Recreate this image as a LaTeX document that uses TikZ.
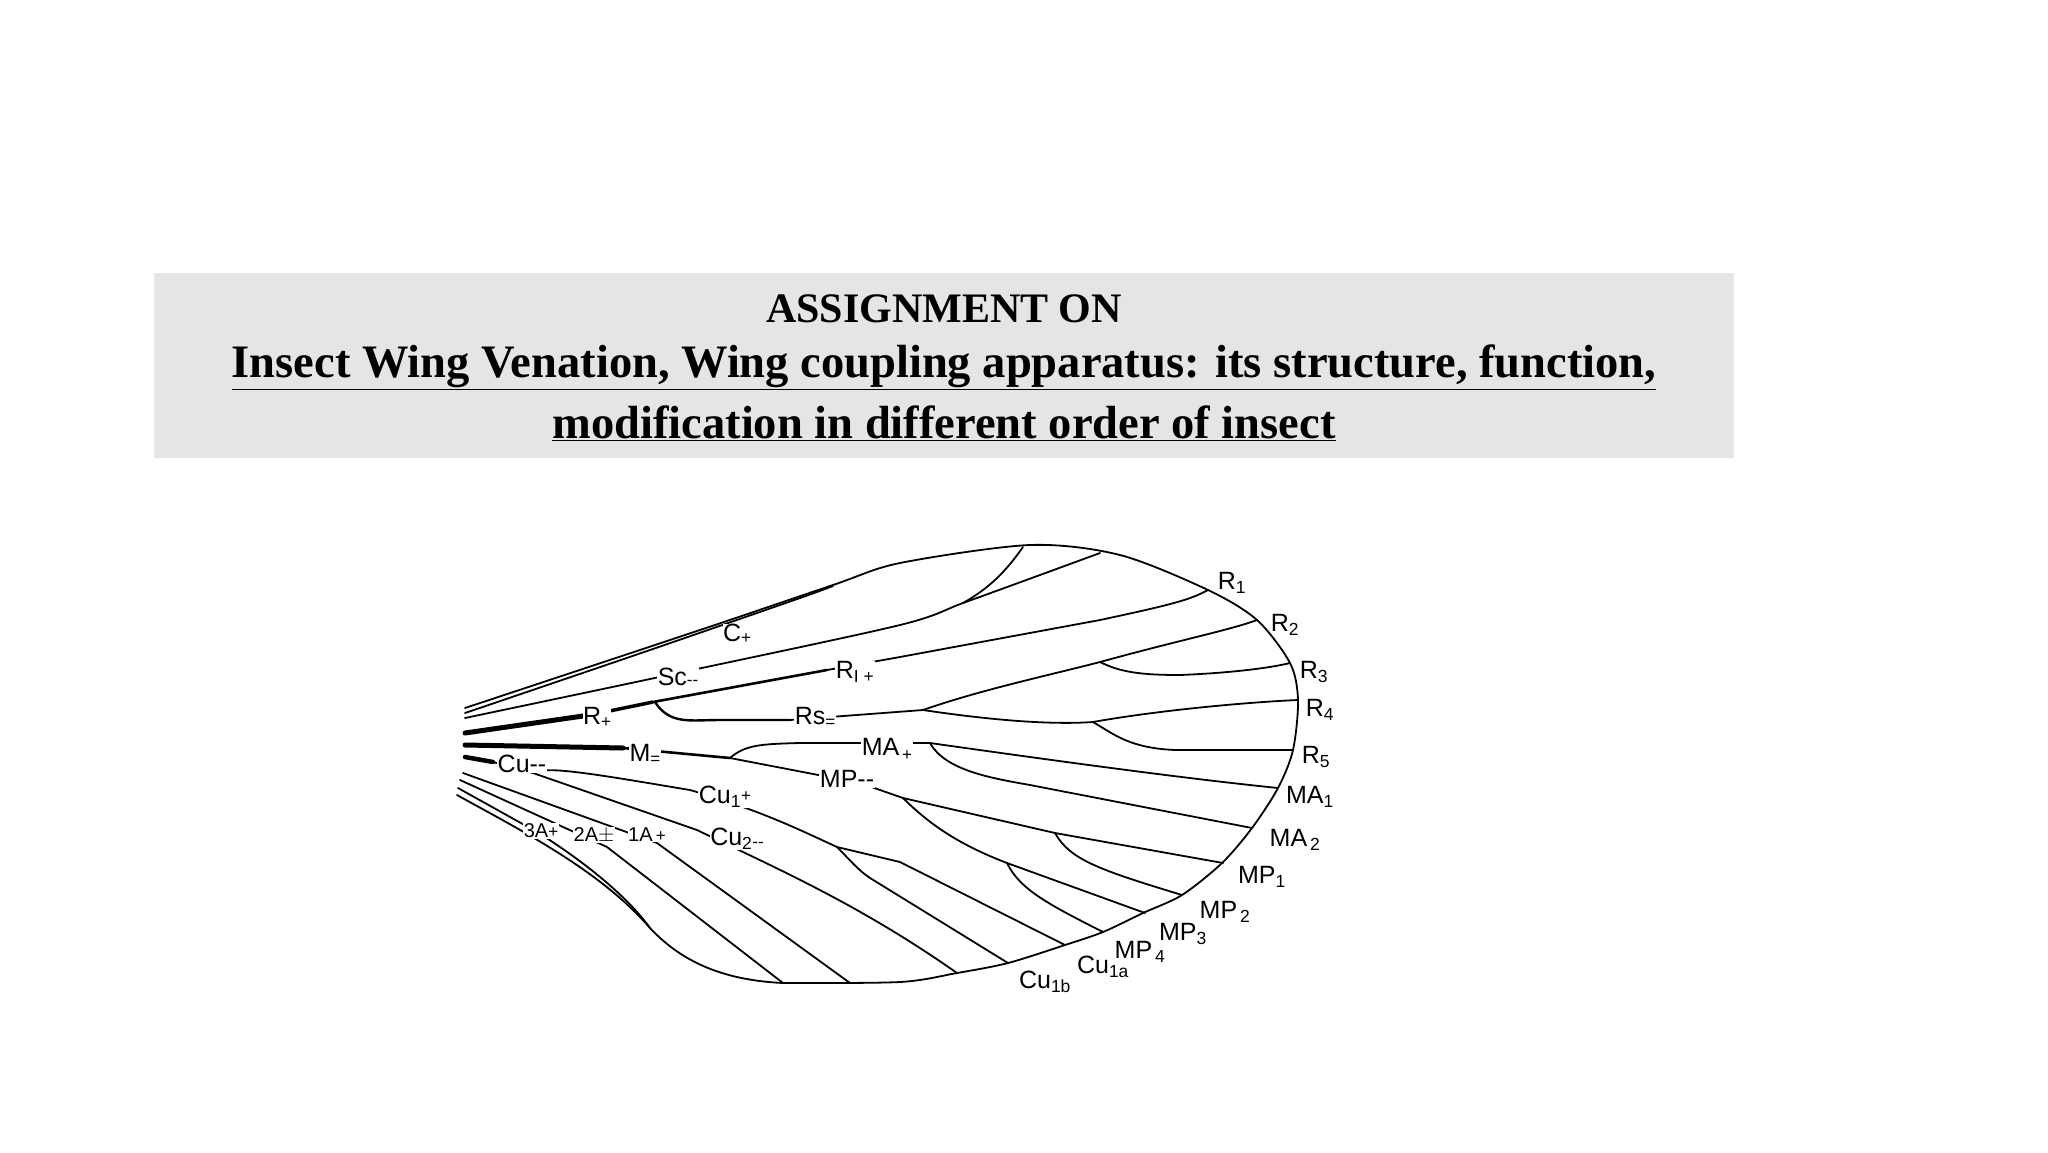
\documentclass[tikz,border=0pt]{standalone}
\usepackage{fontspec}
\setmainfont{Liberation Serif}
\newfontfamily\lab{Liberation Sans}
\newcommand{\sml}[1]{{\fontsize{17}{17}\selectfont #1}}
\begin{document}
\begin{tikzpicture}[x=1pt,y=-1pt,
  vein/.style={line width=1.8pt,line join=round,line cap=round},
  lbl/.style={font=\lab\fontsize{25}{25}\selectfont,fill=white,inner sep=0.5pt},
  mlbl/.style={font=\lab\fontsize{25}{25}\selectfont,inner sep=0.5pt}]
\useasboundingbox (0,0) rectangle (2048,1152);
\fill[fill=white] (0,0) rectangle (2048,1152);
\fill[fill=black!10] (154,273) rectangle (1734,458);
\node[font=\bfseries\fontsize{42}{42}\selectfont] (t1) at (944,309) {ASSIGNMENT ON};
\node[font=\bfseries\fontsize{46.5}{46.5}\selectfont] (t2) at (944,367) {\underline{Insect Wing Venation, Wing coupling apparatus: its structure, function,}};
\node[font=\bfseries\fontsize{46.5}{46.5}\selectfont] (t3) at (944,423) {\underline{modification in different order of insect}};
% wing outline
\draw[vein] plot[smooth,tension=0.5] coordinates {(465,708) (700,630) (833,585) (900,563) (1030,545) (1120,555) (1208,590) (1257,620) (1290,663) (1298,700) (1293,750) (1278,788) (1252,828) (1222,863) (1182,895) (1143,913) (1103,932) (1065,945) (1008,963) (957,973) (900,982) (783,983)};
\draw[vein] (783,983) .. controls (720,980) and (680,960) .. (650,928) .. controls (600,870) and (520,830) .. (457,795);
% C
\draw[vein] plot[smooth,tension=0.5] coordinates {(465,713) (650,650) (800,598) (833,586)};
% Sc
\draw[vein] plot[smooth,tension=0.5] coordinates {(465,718) (683,672) (900,625) (963,603) (1040,575) (1100,553)};
\draw[vein] (963,603) .. controls (995,585) and (1010,565) .. (1023,547);
% R
\draw[line width=5pt,line cap=round] (465,733) -- (590,715);
\draw[line width=3.5pt] (590,715) -- (653,702);
\draw[line width=2.6pt] (653,702) -- (827,670);
\draw[vein] (827,670) -- (900,657) -- (1100,620) .. controls (1170,605) and (1190,600) .. (1208,590);
% Rs
\draw[line width=2.4pt] (655,702) .. controls (670,725) and (690,720) .. (720,720) -- (790,720);
\draw[vein] (790,720) -- (923,710);
\draw[vein] (923,710) .. controls (980,690) and (1050,675) .. (1100,662) .. controls (1180,640) and (1230,630) .. (1257,620);
\draw[vein] (1100,662) .. controls (1120,672) and (1140,675) .. (1180,675) .. controls (1230,673) and (1270,668) .. (1290,663);
\draw[vein] (923,710) .. controls (990,720) and (1050,725) .. (1093,722) .. controls (1160,710) and (1250,702) .. (1298,700);
\draw[vein] (1093,722) .. controls (1115,735) and (1130,748) .. (1175,750) -- (1293,750);
% M
\draw[line width=5pt,line cap=round] (465,745) -- (623,748);
\draw[line width=2.6pt] (623,748) -- (730,758);
\draw[vein] (730,758) .. controls (745,745) and (760,744) .. (800,743) -- (930,743);
\draw[vein] (930,743) .. controls (1050,760) and (1180,778) .. (1278,788);
\draw[vein] (930,743) .. controls (945,770) and (990,778) .. (1030,785) -- (1252,828);
% MP
\draw[vein] (730,758) -- (860,783) -- (903,798);
\draw[vein] (903,798) -- (1055,833) -- (1223,863);
\draw[vein] (1055,833) .. controls (1070,860) and (1100,870) .. (1182,895);
\draw[vein] (903,798) .. controls (930,825) and (960,845) .. (1007,863) -- (1145,913);
\draw[vein] (1007,863) .. controls (1020,890) and (1050,905) .. (1103,932);
% Cu
\draw[line width=4.5pt,line cap=round] (465,757) -- (493,762);
\draw[vein] (493,762) -- (533,773);
\draw[vein] (533,773) .. controls (545,765) and (600,775) .. (690,790) .. controls (760,810) and (800,830) .. (837,847) -- (900,862) -- (1065,945);
\draw[vein] (837,847) .. controls (850,860) and (858,870) .. (870,878) -- (1008,963);
\draw[vein] (533,773) -- (697,830) .. controls (780,870) and (860,905) .. (957,973);
% anal veins
\draw[vein] (463,773) -- (657,843) -- (850,983);
\draw[vein] (460,780) -- (607,847) -- (783,983);
\draw[vein] (458,788) -- (537,832) .. controls (590,865) and (630,900) .. (650,928);
% labels
\node[lbl] (C) at (737,634) {C\raisebox{-2pt}{\sml{+}}};
\node[lbl] (Sc) at (678,677) {Sc\sml{--}};
\node[lbl] (R1p) at (855,672) {R\textsubscript{I +}};
\node[lbl] (Rp) at (597,717) {R\raisebox{-3pt}{\sml{+}}};
\node[lbl] (Rs) at (815,717) {Rs\raisebox{-3pt}{\sml{=}}};
\node[lbl] (M) at (645,754) {M\raisebox{-3pt}{\sml{=}}};
\node[lbl] (MA) at (887,749) {MA\raisebox{-5pt}{\sml{\,+}}};
\node[lbl] (MP) at (847,779) {MP--};
\node[lbl] (Cu) at (522,764) {Cu--};
\node[lbl] (Cu1) at (725,797) {Cu\textsubscript{1}\raisebox{2pt}{\sml{+}}};
\node[lbl] (Cu2) at (737,839) {Cu\textsubscript{2}\raisebox{-2pt}{\sml{--}}};
\node[lbl,font=\lab\fontsize{20}{20}\selectfont] (A3) at (541,831) {3A\sml{+}};
\node[lbl,font=\lab\fontsize{20}{20}\selectfont] (A2) at (594,835) {2A$\pm$};
\node[lbl,font=\lab\fontsize{20}{20}\selectfont] (A1) at (647,835) {1A\,\sml{+}};
\node[mlbl] (lR1) at (1232,583) {R\textsubscript{1}};
\node[mlbl] (lR2) at (1285,625) {R\textsubscript{2}};
\node[mlbl] (lR3) at (1314,672) {R\textsubscript{3}};
\node[mlbl] (lR4) at (1320,710) {R\textsubscript{4}};
\node[mlbl] (lR5) at (1316,757) {R\textsubscript{5}};
\node[mlbl] (lMA1) at (1310,797) {MA\textsubscript{1}};
\node[mlbl] (lMA2) at (1295,840) {MA\textsubscript{\,2}};
\node[mlbl] (lMP1) at (1262,877) {MP\textsubscript{1}};
\node[mlbl] (lMP2) at (1225,912) {MP\textsubscript{\,2}};
\node[mlbl] (lMP3) at (1183,934) {MP\textsubscript{3}};
\node[mlbl] (lMP4) at (1140,952) {MP\textsubscript{\,4}};
\node[mlbl] (lCu1a) at (1103,967) {Cu\textsubscript{1a}};
\node[mlbl] (lCu1b) at (1045,982) {Cu\textsubscript{1b}};
\end{tikzpicture}
\end{document}
